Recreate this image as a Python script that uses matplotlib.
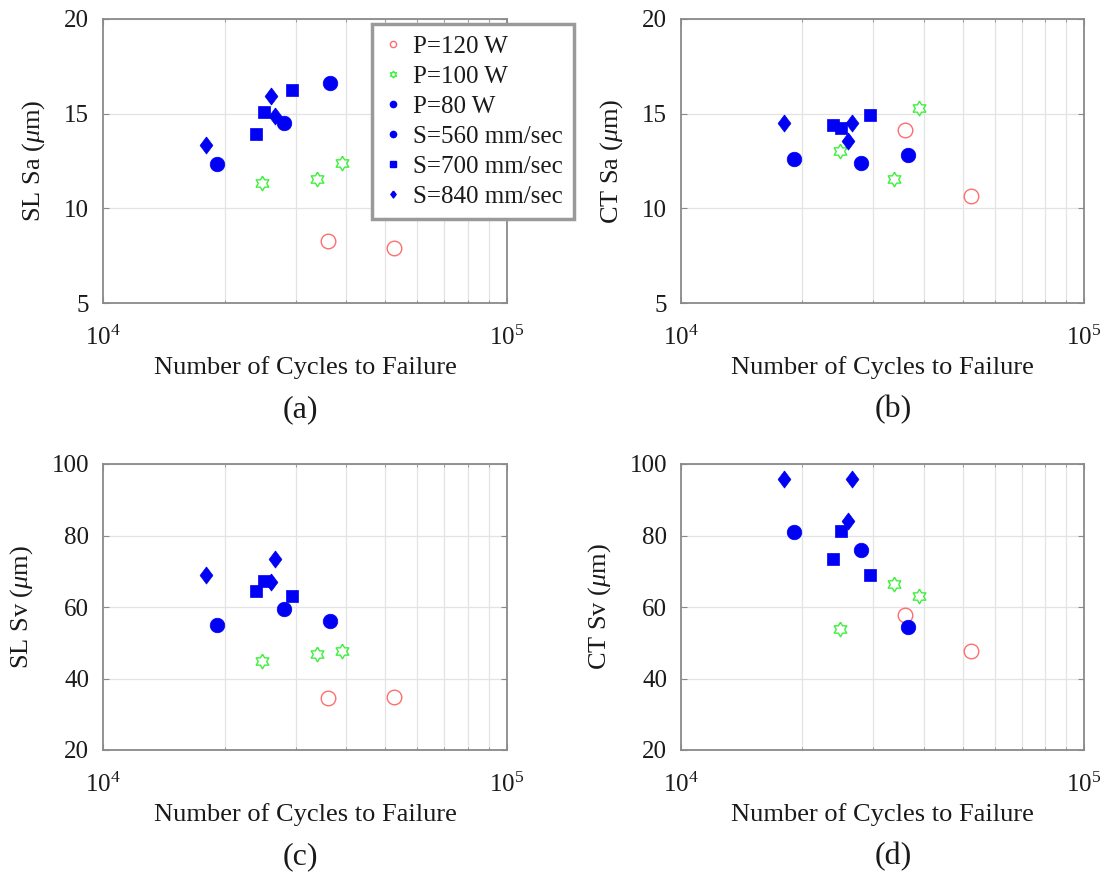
import numpy as np
import matplotlib
matplotlib.use("Agg")
import matplotlib.pyplot as plt
from matplotlib.lines import Line2D
from matplotlib.ticker import NullFormatter

plt.rcParams['font.family'] = ['Liberation Serif', 'DejaVu Serif']
plt.rcParams['mathtext.fontset'] = 'custom'
plt.rcParams['mathtext.rm'] = 'Liberation Serif'
plt.rcParams['mathtext.it'] = 'Liberation Serif:italic'

# ---- data ----
# cycles to failure for each specimen group
n_p120 = [3.60e4, 5.24e4]
n_p100 = [2.48e4, 3.38e4, 3.90e4]
n_s560 = [1.91e4, 2.80e4, 3.65e4]
n_s700 = [2.39e4, 2.50e4, 2.94e4]
n_s840 = [1.80e4, 2.60e4, 2.66e4]

# (a) SL Sa
sl_sa_p120 = [8.27, 7.92]
sl_sa_p100 = [11.32, 11.55, 12.38]
sl_sa_s560 = [12.34, 14.52, 16.6]
sl_sa_s700 = [13.93, 15.07, 16.25]
sl_sa_s840 = [13.35, 15.93, 14.89]
# (b) CT Sa
ct_sa_p120 = [14.14, 10.67]
ct_sa_p100 = [13.05, 11.54, 15.30]
ct_sa_s560 = [12.62, 12.41, 12.83]
ct_sa_s700 = [14.39, 14.23, 14.92]
ct_sa_s840 = [14.52, 13.54, 14.52]
# (c) SL Sv
sl_sv_p120 = [34.5, 34.7]
sl_sv_p100 = [44.8, 46.9, 47.8]
sl_sv_s560 = [54.97, 59.5, 56.2]
sl_sv_s700 = [64.57, 67.2, 63.0]
sl_sv_s840 = [69.0, 67.1, 73.4]
# (d) CT Sv
ct_sv_p120 = [57.7, 47.6]
ct_sv_p100 = [53.9, 66.4, 63.1]
ct_sv_s560 = [81.1, 75.9, 54.5]
ct_sv_s700 = [73.5, 81.3, 68.9]
ct_sv_s840 = [95.8, 84.1, 95.8]

legend_labels = ['P=120 W', 'P=100 W', 'P=80 W', 'S=560 mm/sec', 'S=700 mm/sec', 'S=840 mm/sec']
panel_letters = ['(a)', '(b)', '(c)', '(d)']
ylabels = [r'SL Sa ($\mu$m)', r'CT Sa ($\mu$m)', r'SL Sv ($\mu$m)', r'CT Sv ($\mu$m)']
sa_ticks = [5, 10, 15, 20]
sv_ticks = [20, 40, 60, 80, 100]

# ---- marker shapes ----
ang = np.deg2rad(90 + np.arange(12) * 30)
rad = np.where(np.arange(12) % 2 == 0, 1.0, 1 / np.sqrt(3))
hexagram = np.column_stack([rad * np.cos(ang), rad * np.sin(ang)])
hexagram = np.vstack([hexagram, hexagram[:1]])
diamond = np.array([[0, 1], [0.75, 0], [0, -1], [-0.75, 0], [0, 1]])

RED = '#ff6e6e'
GREEN = '#3cf03c'
BLUE = '#0000f5'

W, H = 1112, 890
fig = plt.figure(figsize=(W / 100, H / 100), dpi=100)

def rect(x0, y0, x1, y1):
    return [x0 / W, 1 - y1 / H, (x1 - x0) / W, (y1 - y0) / H]

rects = [rect(103, 19, 507, 303), rect(681, 19, 1084, 303),
         rect(103, 464, 507, 750), rect(681, 464, 1084, 750)]

panels = [
    (sl_sa_p120, sl_sa_p100, sl_sa_s560, sl_sa_s700, sl_sa_s840),
    (ct_sa_p120, ct_sa_p100, ct_sa_s560, ct_sa_s700, ct_sa_s840),
    (sl_sv_p120, sl_sv_p100, sl_sv_s560, sl_sv_s700, sl_sv_s840),
    (ct_sv_p120, ct_sv_p100, ct_sv_s560, ct_sv_s700, ct_sv_s840),
]

axes = []
for i, (r, data) in enumerate(zip(rects, panels)):
    ax = fig.add_axes(r)
    axes.append(ax)
    p120, p100, s560, s700, s840 = data
    ax.plot(n_p120, p120, ls='none', marker='o', ms=10.5, mfc='none', mec=RED, mew=1.0)
    ax.plot(n_p100, p100, ls='none', marker=hexagram, ms=10.5, mfc='none', mec=GREEN, mew=1.0)
    ax.plot(n_s560, s560, ls='none', marker='o', ms=10.5, mfc=BLUE, mec=BLUE, mew=0.5)
    ax.plot(n_s700, s700, ls='none', marker='s', ms=8.3, mfc=BLUE, mec=BLUE, mew=0.5)
    ax.plot(n_s840, s840, ls='none', marker=diamond, ms=12.3, mfc=BLUE, mec=BLUE, mew=0.5)
    ax.set_xscale('log')
    ax.set_xlim(1e4, 1e5)
    if i < 2:
        ax.set_ylim(5, 20)
        ax.set_yticks(sa_ticks)
    else:
        ax.set_ylim(20, 100)
        ax.set_yticks(sv_ticks)
    ax.set_xticks([1e4, 1e5])
    ax.xaxis.set_minor_formatter(NullFormatter())
    ax.grid(True, which='major', axis='y', color='#e3e3e3', lw=0.9)
    ax.grid(True, which='minor', axis='x', color='#e3e3e3', lw=0.9)
    ax.set_axisbelow(True)
    for s in ax.spines.values():
        s.set_color('#8a8a8a')
        s.set_linewidth(1.3)
    ax.tick_params(which='both', direction='in', top=True, right=True, color='#8a8a8a',
                   labelsize=18, labelcolor='#1a1a1a')
    ax.tick_params(which='major', length=4, width=0.8, pad=10)
    ax.tick_params(which='minor', length=2.5, width=0.6)
    ax.tick_params(axis='x', which='major', pad=16)
    ax.set_xlabel('Number of Cycles to Failure', fontsize=19, color='#1a1a1a', labelpad=5)
    ax.set_ylabel(ylabels[i], fontsize=19, color='#1a1a1a', labelpad=12)

# panel letters
for (x, y), t in zip([(300, 410), (893, 410), (300, 857), (893, 857)], panel_letters):
    fig.text(x / W, 1 - y / H, t, ha='center', va='center', fontsize=23, color='#1a1a1a')

# legend
handles = [
    Line2D([], [], ls='none', marker='o', ms=4.5, mfc='none', mec=RED, mew=1.0),
    Line2D([], [], ls='none', marker=hexagram, ms=5, mfc='none', mec=GREEN, mew=1.0),
    Line2D([], [], ls='none', marker='o', ms=4.5, mfc=BLUE, mec=BLUE),
    Line2D([], [], ls='none', marker='o', ms=4.5, mfc=BLUE, mec=BLUE),
    Line2D([], [], ls='none', marker='s', ms=4, mfc=BLUE, mec=BLUE),
    Line2D([], [], ls='none', marker=diamond, ms=5, mfc=BLUE, mec=BLUE),
]
leg = axes[0].legend(handles, legend_labels, loc='upper left',
                     bbox_to_anchor=(269 / 404, (303 - 24) / 284), borderaxespad=0,
                     fontsize=18, frameon=True, fancybox=False, handlelength=0.8,
                     handletextpad=0.4, labelspacing=0.30, borderpad=0.45)
leg.get_frame().set_edgecolor('#9a9a9a')
leg.get_frame().set_linewidth(2.5)
leg.get_frame().set_alpha(1)
for t in leg.get_texts():
    t.set_color('#1a1a1a')

fig.savefig('out.png', dpi=100)
